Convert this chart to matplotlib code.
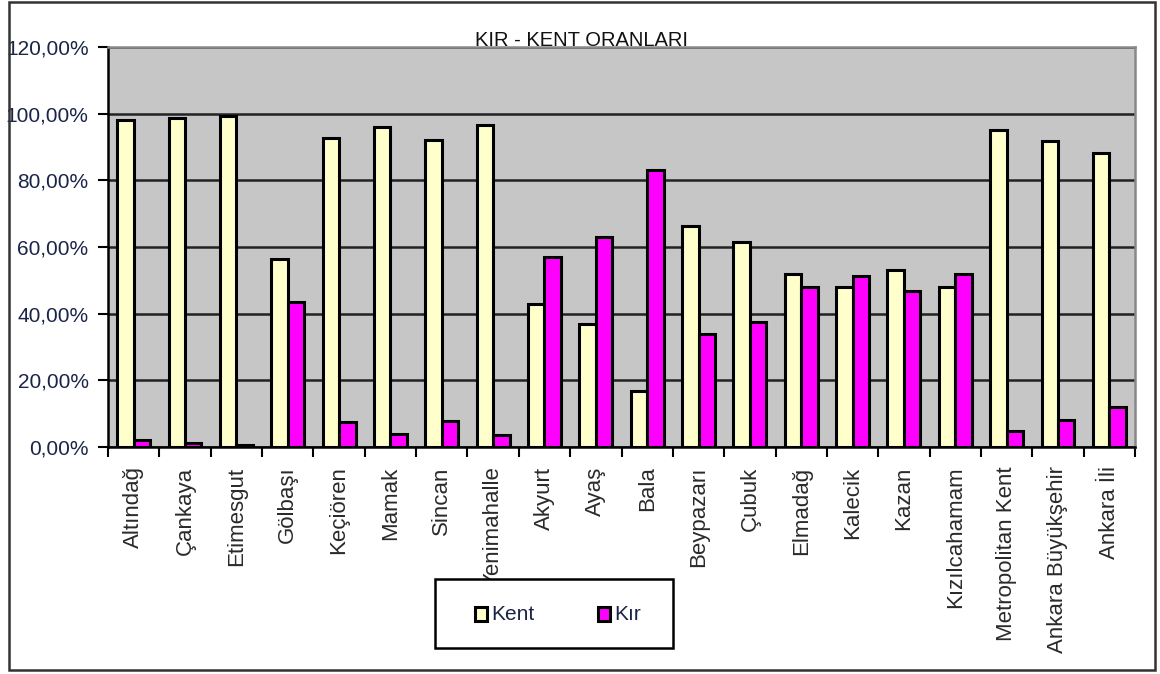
import matplotlib
matplotlib.use("Agg")
import matplotlib.pyplot as plt
from matplotlib.patches import Rectangle
from matplotlib.ticker import FuncFormatter, MultipleLocator, FixedLocator
import numpy as np

categories = ["Altındağ", "Çankaya", "Etimesgut", "Gölbaşı", "Keçiören", "Mamak",
              "Sincan", "Yenimahalle", "Akyurt", "Ayaş", "Bala", "Beypazarı", "Çubuk",
              "Elmadağ", "Kalecik", "Kazan", "Kızılcahamam", "Metropolitan Kent",
              "Ankara Büyükşehir", "Ankara İli"]
kent = [98.0, 98.7, 99.4, 56.4, 92.6, 96.0, 92.1, 96.5, 42.9, 36.9, 16.8, 66.2, 61.4,
        52.0, 48.0, 53.1, 48.1, 95.1, 91.9, 88.1]
kir = [2.0, 1.3, 0.6, 43.6, 7.4, 4.0, 7.9, 3.5, 57.1, 63.1, 83.2, 33.8, 37.6,
       48.0, 51.2, 46.9, 51.9, 4.9, 8.1, 11.9]
series_names = ["Kent", "Kır"]
title = "KIR - KENT ORANLARI"

reg = ["Liberation Sans", "DejaVu Sans"]

W, H = 1160, 674
fig = plt.figure(figsize=(W/100, H/100), dpi=100)
fig.patch.set_facecolor("white")
ax = fig.add_axes([108/W, 1-447/H, (1135-108)/W, (447-47)/H])
ax.set_facecolor("#C6C6C6")

x = np.arange(len(categories))
w = 0.32
kent_col = "#FFFFCC"
kir_col = "#FF00FF"
ax.bar(x - w/2, kent, width=w, color=kent_col, edgecolor="black", linewidth=2.2, zorder=3)
ax.bar(x + w/2, kir, width=w, color=kir_col, edgecolor="black", linewidth=2.2, zorder=3)

ax.set_xlim(-0.5, len(categories) - 0.5)
ax.set_ylim(0, 120)
ax.yaxis.set_major_locator(MultipleLocator(20))
ax.yaxis.set_major_formatter(FuncFormatter(lambda v, p: f"{v:.2f}".replace(".", ",") + "%"))
ax.grid(axis="y", color="#222222", linewidth=1.8, zorder=1)
ax.set_axisbelow(True)

ax.set_xticks(x)
ax.set_xticklabels(categories, rotation=90, fontfamily=reg, fontsize=16, color="#2a2a2a",
                   va="top")
ax.xaxis.set_minor_locator(FixedLocator(np.arange(-0.5, len(categories), 1.0)))
ax.tick_params(axis="x", which="major", length=0, pad=14)
ax.tick_params(axis="x", which="minor", length=7, width=1.5, color="black", direction="out")
ax.tick_params(axis="y", length=7, width=1.5, color="black", direction="out", pad=7,
               labelsize=15)
for lab in ax.get_yticklabels():
    lab.set_fontfamily(reg)
    lab.set_color("#1A2448")

for s in ["left", "bottom"]:
    ax.spines[s].set_color("black")
    ax.spines[s].set_linewidth(1.8)
for s in ["top", "right"]:
    ax.spines[s].set_color("#888888")
    ax.spines[s].set_linewidth(1.8)

fig.text(582/W, 1-46/H, title, ha="center", va="baseline", fontfamily=reg,
         fontsize=14.5, color="#111111")

# legend box drawn manually
fig.patches.append(Rectangle((435/W, 1-648/H), 238/W, 69/H, transform=fig.transFigure,
                             facecolor="white", edgecolor="black", linewidth=1.8))
cols = [kent_col, kir_col]
mark_x = [475, 598]
for name, col, mx in zip(series_names, cols, mark_x):
    fig.patches.append(Rectangle((mx/W, 1-621/H), 12/W, 14/H, transform=fig.transFigure,
                                 facecolor=col, edgecolor="black", linewidth=2.2))
    fig.text((mx + 16)/W, 1-614/H, name, ha="left", va="center", fontfamily=reg,
             fontsize=15, color="#1A2448")

border = Rectangle((9/W, 1-670/H), 1146/W, 668/H, transform=fig.transFigure,
                   fill=False, edgecolor="#333333", linewidth=1.8)
fig.patches.append(border)

fig.savefig("out.png", dpi=100)
